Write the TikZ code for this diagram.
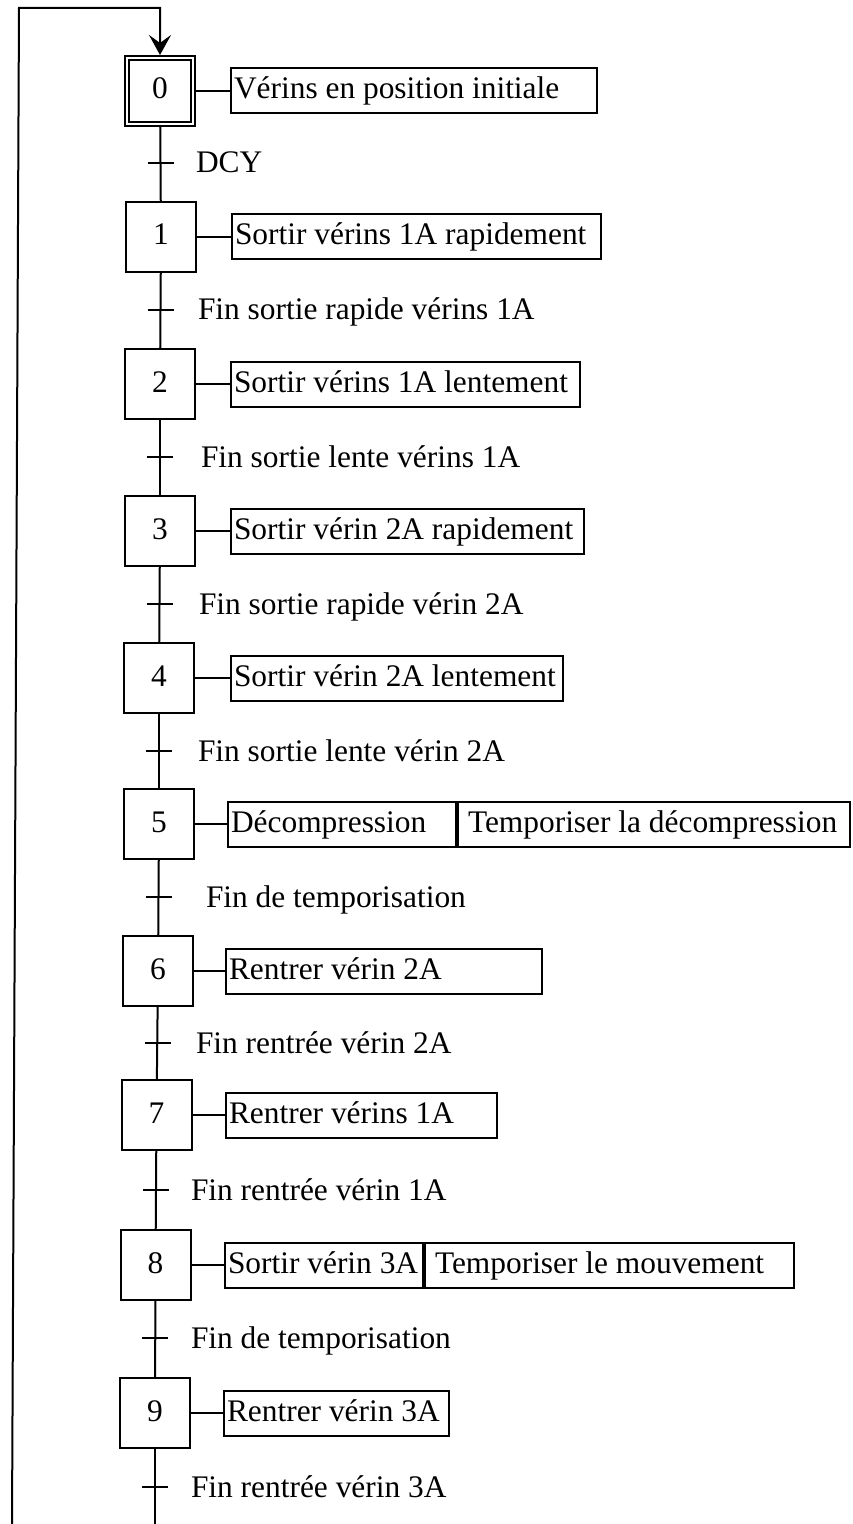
\documentclass[tikz,border=0pt]{standalone}
\usepackage{fontspec}
\setmainfont{Liberation Serif}
\usetikzlibrary{arrows.meta}
% left-aligned action text in a box of fixed width
\newcommand\boite[2]{\makebox[#1][l]{#2}}
\begin{document}
\begin{tikzpicture}[x=0.5pt, y=-0.5pt, line width=1pt,
  every node/.style={font=\fontsize{15.7pt}{18pt}\selectfont, text height=11pt, text depth=3pt},
  etape/.style={draw, minimum width=35pt, minimum height=35pt, inner sep=0pt},
  action/.style={draw, anchor=west, minimum height=22.5pt, inner ysep=0pt, inner xsep=1.5pt},
  action2/.style={action, inner xsep=5pt},
  recep/.style={anchor=west, inner sep=0pt},
  fleche/.style={-{Stealth[length=10pt, width=11pt, inset=4pt]}},
]
\useasboundingbox (0,0) rectangle (852,1524);

% steps
\node[etape] (s0) at (160,91) {0};
\draw ([shift={(5,5)}]s0.north west) rectangle ([shift={(-5,-5)}]s0.south east);
\node[etape] (s1) at (161,237) {1};
\node[etape] (s2) at (160,384) {2};
\node[etape] (s3) at (160,531) {3};
\node[etape] (s4) at (159,678) {4};
\node[etape] (s5) at (159,824) {5};
\node[etape] (s6) at (158,971) {6};
\node[etape] (s7) at (156.5,1115) {7};
\node[etape] (s8) at (155.5,1265) {8};
\node[etape] (s9) at (155,1413) {9};

% actions
\node[action] (a0) at (230,91) {\boite{180pt}{Vérins en position initiale}};
\node[action] (a1) at (231,237) {\boite{181.5pt}{Sortir vérins 1A rapidement}};
\node[action] (a2) at (230,384) {\boite{171.5pt}{Sortir vérins 1A lentement}};
\node[action] (a3) at (230,531) {\boite{173.5pt}{Sortir vérin 2A rapidement}};
\node[action] (a4) at (230,678) {\boite{163pt}{Sortir vérin 2A lentement}};
\node[action] (a5) at (227,824) {\boite{111pt}{Décompression}};
\node[action2] (a5b) at (a5.east) {\boite{186pt}{Temporiser la décompression}};
\node[action] (a6) at (225,971) {\boite{155pt}{Rentrer vérin 2A}};
\node[action] (a7) at (225,1115) {\boite{132.5pt}{Rentrer vérins 1A}};
\node[action] (a8) at (224,1265) {\boite{96pt}{Sortir vérin 3A}};
\node[action2] (a8b) at (a8.east) {\boite{174.5pt}{Temporiser le mouvement}};
\node[action] (a9) at (223,1413) {\boite{109.5pt}{Rentrer vérin 3A}};

% links step -> action
\foreach \k in {0,...,9} { \draw (s\k) -- (a\k); }

% sequence links
\draw (s0) -- (s1);
\draw (s1) -- (s2);
\draw (s2) -- (s3);
\draw (s3) -- (s4);
\draw (s4) -- (s5);
\draw (s5) -- (s6);
\draw (s6) -- (s7);
\draw (s7) -- (s8);
\draw (s8) -- (s9);

% transitions
\draw (147.5,163) -- +(26,0);
\draw (147.5,310) -- +(26,0);
\draw (147,457) -- +(26,0);
\draw (146.5,604) -- +(26,0);
\draw (146,751) -- +(26,0);
\draw (145.5,897) -- +(26,0);
\draw (144.5,1043) -- +(26,0);
\draw (143,1190) -- +(26,0);
\draw (142,1338) -- +(26,0);
\draw (142,1487) -- +(26,0);

\node[recep] (r0) at (195,165) {DCY};
\node[recep] (r1) at (197,312) {Fin sortie rapide vérins 1A};
\node[recep] (r2) at (200,459) {Fin sortie lente vérins 1A};
\node[recep] (r3) at (198,606) {Fin sortie rapide vérin 2A};
\node[recep] (r4) at (197,753) {Fin sortie lente vérin 2A};
\node[recep] (r5) at (205,899) {Fin de temporisation};
\node[recep] (r6) at (195,1045) {Fin rentrée vérin 2A};
\node[recep] (r7) at (190,1192) {Fin rentrée vérin 1A};
\node[recep] (r8) at (190,1340) {Fin de temporisation};
\node[recep] (r9) at (190,1489) {Fin rentrée vérin 3A};

% loop back to the initial step
\coordinate (basD) at (155,1524);
\coordinate (basG) at (12,1524);
\coordinate (hautG) at (19,8);
\draw (s9) -- (basD);
\draw[fleche] (basG) -- (hautG) -| (s0.north);
\end{tikzpicture}
\end{document}
